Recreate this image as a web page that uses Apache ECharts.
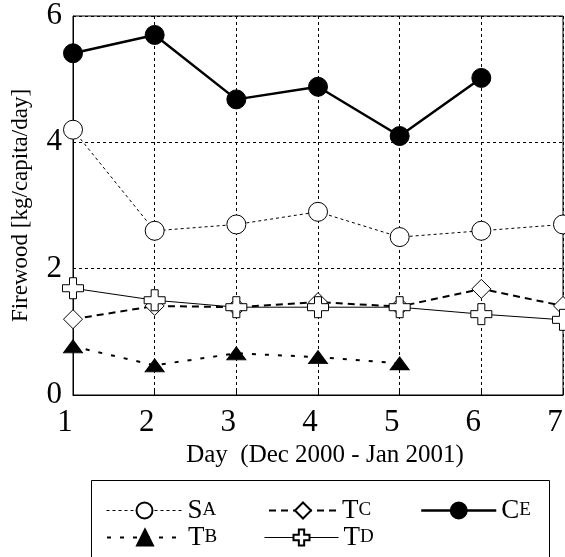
<!DOCTYPE html>
<html>
<head>
<meta charset="utf-8">
<script src="https://cdn.jsdelivr.net/npm/echarts@6/dist/echarts.min.js"></script>
<style>
html, body { margin: 0; padding: 0; background: #fff; }
#chart { width: 565px; height: 557px; }
</style>
</head>
<body>
<div id="chart"></div>
<script>
// day number on x axis
var days = [1, 2, 3, 4, 5, 6, 7];
var yTicks = [0, 2, 4, 6];

// firewood consumption, kg/capita/day
var sA = [4.2, 2.6, 2.7, 2.9, 2.5, 2.6, 2.7];
var tB = [0.77, 0.47, 0.66, 0.6, 0.5];
var tC = [1.2, 1.41, 1.39, 1.47, 1.4, 1.68, 1.41];
var tD = [1.69, 1.5, 1.39, 1.39, 1.39, 1.28, 1.19];
var cE = [5.41, 5.7, 4.68, 4.88, 4.1, 5.02];

var serif = 'Liberation Serif';
var plusPath = 'path://M-1,-3L1,-3L1,-1L3,-1L3,1L1,1L1,3L-1,3L-1,1L-3,1L-3,-1L-1,-1Z';

function pairs(vals) {
    return vals.map(function (v, i) { return [days[i], v]; });
}

// legend names drawn as small caps: big first letter, small second
function capsName(name) {
    return '{b|' + name.charAt(0) + '}{s|' + name.charAt(1) + '}';
}
var legendText = {
    color: '#000',
    fontFamily: serif,
    rich: {
        b: { fontSize: 27, fontFamily: serif, color: '#000' },
        s: { fontSize: 19, fontFamily: serif, color: '#000' }
    }
};
function legendFor(name, left, top, w, lw) {
    return {
        data: [name], left: left, top: top, padding: 0,
        itemWidth: w, itemHeight: 20,
        formatter: capsName,
        textStyle: legendText,
        lineStyle: { width: lw },
        selectedMode: false
    };
}

var chart = echarts.init(document.getElementById('chart'));
chart.setOption({
    backgroundColor: '#fff',
    animation: false,
    grid: {
        left: 73, right: 2, top: 16, bottom: 162,
        outerBoundsMode: 'none', containLabel: false,
        show: true, borderColor: '#000', borderWidth: 1
    },
    xAxis: {
        type: 'value', min: 1, max: 7, interval: 1,
        name: 'Day  (Dec 2000 - Jan 2001)',
        nameLocation: 'middle', nameGap: 48,
        nameTextStyle: { fontFamily: serif, fontSize: 25, color: '#000', padding: [0, 0, 0, 14] },
        axisLine: { lineStyle: { color: '#000', width: 1 } },
        axisTick: { inside: true, length: 6, lineStyle: { color: '#000' } },
        axisLabel: { fontFamily: serif, fontSize: 31, color: '#000', margin: 12, padding: [0, 16, 0, 0] },
        splitLine: { show: true, lineStyle: { color: '#000', type: [3, 3], width: 1 } }
    },
    yAxis: {
        type: 'value', min: 0, max: 6, interval: 2,
        name: 'Firewood [kg/capita/day]',
        nameLocation: 'middle', nameGap: 41,
        nameTextStyle: { fontFamily: serif, fontSize: 23, color: '#000' },
        axisLine: { show: true, lineStyle: { color: '#000', width: 1 } },
        axisTick: { show: false },
        axisLabel: {
            fontFamily: serif, fontSize: 31, color: '#000', margin: 11,
            formatter: function (v) { return yTicks.indexOf(v) >= 0 ? String(v) : ''; }
        },
        splitLine: { show: true, lineStyle: { color: '#000', type: [3, 3], width: 1 } }
    },
    legend: [
        legendFor('SA', 106, 497, 76, 1),
        legendFor('TB', 106, 524, 76, 2),
        legendFor('TC', 268, 497, 68, 2),
        legendFor('TD', 264, 524, 74, 1),
        legendFor('CE', 420, 497, 75, 2.5)
    ],
    graphic: [{
        type: 'rect', left: 89, top: 478,
        shape: { width: 458, height: 100 },
        style: { fill: 'none', stroke: '#000', lineWidth: 1 }
    }],
    series: [
        {
            name: 'SA', type: 'line', data: pairs(sA), z: 3,
            symbol: 'circle', symbolSize: 19, showAllSymbol: true,
            lineStyle: { color: '#000', width: 1, type: [3, 3] },
            itemStyle: { color: '#fff', borderColor: '#000', borderWidth: 1 }
        },
        {
            name: 'TB', type: 'line', data: pairs(tB), z: 3,
            symbol: 'triangle', symbolSize: [19, 13],
            lineStyle: { color: '#000', width: 2, type: [4, 9] },
            itemStyle: { color: '#000', borderColor: '#000', borderWidth: 1 }
        },
        {
            name: 'TC', type: 'line', data: pairs(tC), z: 4,
            symbol: 'diamond', symbolSize: 19,
            lineStyle: { color: '#000', width: 2, type: [7, 5] },
            itemStyle: { color: '#fff', borderColor: '#000', borderWidth: 1 }
        },
        {
            name: 'TD', type: 'line', data: pairs(tD), z: 4,
            symbol: plusPath, symbolSize: 21,
            lineStyle: { color: '#000', width: 1, type: 'solid' },
            itemStyle: { color: '#fff', borderColor: '#000', borderWidth: 1 }
        },
        {
            name: 'CE', type: 'line', data: pairs(cE), z: 5,
            symbol: 'circle', symbolSize: 19,
            lineStyle: { color: '#000', width: 2.5, type: 'solid' },
            itemStyle: { color: '#000', borderColor: '#000', borderWidth: 1 }
        }
    ]
});
</script>
</body>
</html>
